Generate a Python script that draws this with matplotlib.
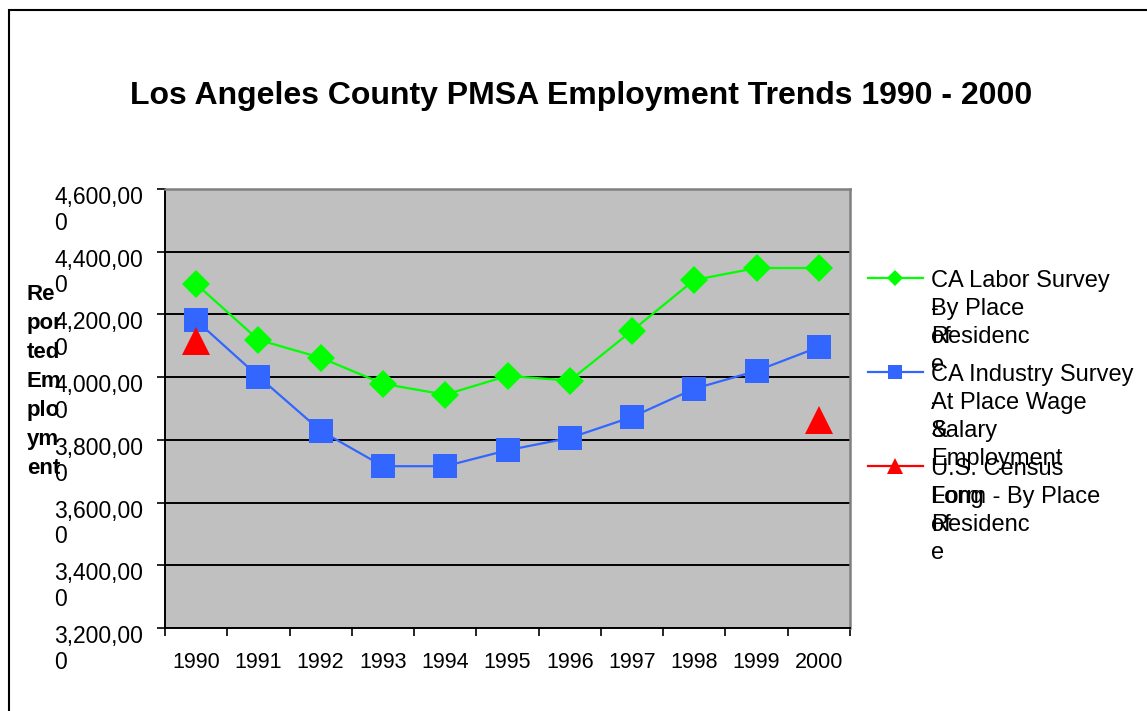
import matplotlib
matplotlib.use('Agg')
import matplotlib.pyplot as plt
from matplotlib.lines import Line2D
from matplotlib.patches import Rectangle
from matplotlib.transforms import ScaledTranslation
import numpy as np

plt.rcParams['font.family'] = ['Liberation Sans', 'DejaVu Sans']

years = ['1990', '1991', '1992', '1993', '1994', '1995', '1996', '1997', '1998', '1999', '2000']
labor = [4297000, 4119000, 4062000, 3979000, 3944000, 4004000, 3989000, 4148000, 4310000, 4348000, 4348000]
industry = [4181000, 4002000, 3829000, 3716000, 3716000, 3767000, 3806000, 3873000, 3963000, 4020000, 4096000]
census = [4114000, np.nan, np.nan, np.nan, np.nan, np.nan, np.nan, np.nan, np.nan, np.nan, 3862000]
y_ticks = [3200000, 3400000, 3600000, 3800000, 4000000, 4200000, 4400000, 4600000]

title = 'Los Angeles County PMSA Employment Trends 1990 - 2000'
ylabel_lines = ['Re', 'por', 'ted', 'Em', 'plo', 'ym', 'ent']
# legend text as Excel wrapped it, fragments on one line overlap
legend_text = [
    [['CA Labor Survey'], ['-', 'By Place'], ['of', 'Residenc'], ['e']],
    [['CA Industry Survey'], ['-', 'At Place Wage'], ['&', 'Salary'], ['Employment']],
    [['U.S. Census'], ['Long', 'Form - By Place'], ['of', 'Residenc'], ['e']],
]

W, H = 1147, 711
GREEN, BLUE, RED = '#00FF00', '#3366FF', '#FF0000'


def fx(x):
    return x / W


def fy(y):
    return 1 - y / H


fig = plt.figure(figsize=(W / 100, H / 100), dpi=100)
ax = fig.add_axes([fx(165), fy(628), (850 - 165) / W, (628 - 189) / H])
ax.set_facecolor('#C0C0C0')

x = np.arange(len(years))
l1, = ax.plot(x, labor, color=GREEN, lw=1.6, marker='D', ms=14.5, mew=0)
l2, = ax.plot(x, industry, color=BLUE, lw=1.6, marker='s', ms=17, mew=0)
l3, = ax.plot(x, census, color=RED, lw=1.6, marker='^', ms=19.5, mew=0)

ax.set_xlim(-0.5, len(years) - 0.5)
ax.set_ylim(y_ticks[0], y_ticks[-1])
ax.set_xticks(x)
ax.set_xticklabels(years, fontsize=15.5)
ax.set_xticks(np.arange(len(years) + 1) - 0.5, minor=True)
ax.tick_params(axis='x', which='major', length=0, pad=17)
ax.tick_params(axis='x', which='minor', length=6, width=1.2, direction='out')
ax.set_yticks(y_ticks)
ax.set_yticklabels([])
ax.tick_params(axis='y', length=6, width=1.2, direction='out')
ax.yaxis.grid(True, color='black', lw=1.4)
ax.set_axisbelow(True)

for side in ['left', 'bottom']:
    ax.spines[side].set_color('black')
    ax.spines[side].set_linewidth(1.4)
for side in ['top', 'right']:
    ax.spines[side].set_color('#808080')
    ax.spines[side].set_linewidth(1.8)

# wrapped y tick labels, like "4,600,00" / "0"
off = ScaledTranslation(-0.22, 0.03, fig.dpi_scale_trans)
for v in y_ticks:
    s = f'{v:,}'
    ax.text(0, v, s[:-1] + '\n' + s[-1], transform=ax.get_yaxis_transform() + off,
            ha='right', va='top', multialignment='left', fontsize=16.5, linespacing=1.15)

fig.text(fx(581), fy(104), title, ha='center', va='baseline', fontsize=23, fontweight='bold')

for i, t in enumerate(ylabel_lines):
    fig.text(fx(27), fy(300 + 29 * i), t, ha='left', va='baseline', fontsize=16, fontweight='bold')

# legend drawn by hand so entries can overlap like the original
handles = [(l1, 'D', 8.5), (l2, 's', 9.5), (l3, '^', 11)]
for i, ((line, mk, ms), lines) in enumerate(zip(handles, legend_text)):
    y0 = 278 + 94 * i
    fig.add_artist(Line2D([fx(868), fx(895), fx(923)], [fy(y0)] * 3, transform=fig.transFigure,
                          color=line.get_color(), lw=1.6, marker=mk, ms=ms, mew=0, markevery=[1]))
    for k, frags in enumerate(lines):
        for f in frags:
            fig.text(fx(931), fy(y0 + 9 + 28 * k), f, ha='left', va='baseline', fontsize=17)

# chart area border (only left and top visible in the crop)
fig.add_artist(Rectangle((fx(9), -0.1), 1.2, fy(10) + 0.1, transform=fig.transFigure,
                         fill=False, edgecolor='black', lw=1.5))

fig.savefig('out.png', dpi=100)
